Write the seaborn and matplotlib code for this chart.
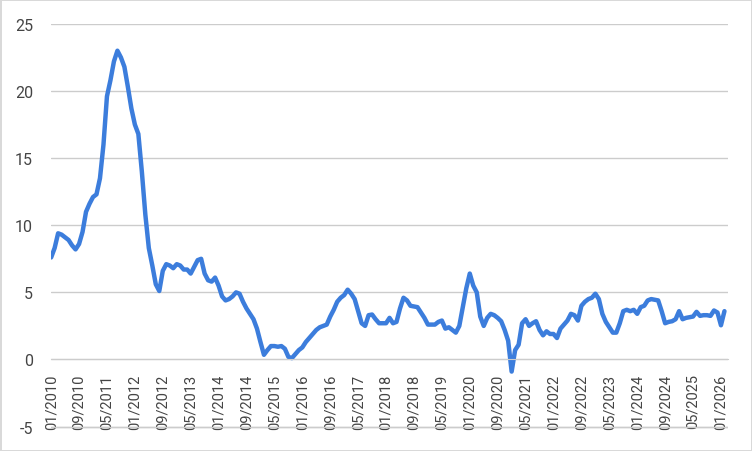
import matplotlib
matplotlib.use("Agg")
import matplotlib.pyplot as plt
import seaborn as sns
import numpy as np
import pandas as pd

# monthly values, 01/2010 .. 02/2026
values = [
    7.6, 8.3, 9.4, 9.3, 9.1, 8.9, 8.5, 8.2, 8.6, 9.5, 11.0, 11.6,    # 2010
    12.1, 12.3, 13.5, 16.0, 19.6, 20.8, 22.2, 23.0, 22.5, 21.8, 20.3, 18.7,  # 2011
    17.5, 16.8, 14.0, 10.8, 8.3, 7.0, 5.6, 5.1, 6.6, 7.1, 7.0, 6.8,  # 2012
    7.1, 7.0, 6.7, 6.7, 6.4, 6.9, 7.4, 7.5, 6.4, 5.9, 5.8, 6.1,      # 2013
    5.5, 4.7, 4.4, 4.5, 4.7, 5.0, 4.9, 4.3, 3.8, 3.4, 3.0, 2.3,      # 2014
    1.3, 0.35, 0.7, 1.0, 1.0, 0.95, 1.0, 0.8, 0.2, 0.1, 0.4, 0.7,    # 2015
    0.9, 1.3, 1.6, 1.9, 2.2, 2.4, 2.5, 2.6, 3.2, 3.7, 4.3, 4.6,      # 2016
    4.8, 5.2, 4.9, 4.5, 3.6, 2.7, 2.5, 3.3, 3.35, 3.0, 2.7, 2.7,     # 2017
    2.7, 3.1, 2.7, 2.8, 3.8, 4.6, 4.4, 4.0, 3.95, 3.9, 3.5, 3.1,     # 2018
    2.6, 2.6, 2.6, 2.8, 2.9, 2.3, 2.4, 2.2, 2.0, 2.5, 3.9, 5.3,      # 2019
    6.4, 5.5, 5.0, 3.2, 2.5, 3.1, 3.4, 3.3, 3.1, 2.85, 2.2, 1.4,     # 2020
    -0.9, 0.7, 1.1, 2.7, 3.0, 2.5, 2.7, 2.85, 2.2, 1.8, 2.1, 1.9,    # 2021
    1.9, 1.6, 2.3, 2.6, 2.9, 3.4, 3.3, 2.9, 4.0, 4.3, 4.5, 4.6,      # 2022
    4.9, 4.5, 3.4, 2.8, 2.4, 2.0, 2.0, 2.7, 3.6, 3.7, 3.6, 3.7,      # 2023
    3.4, 3.9, 4.0, 4.4, 4.5, 4.45, 4.4, 3.6, 2.7, 2.8, 2.85, 3.0,    # 2024
    3.6, 3.0, 3.1, 3.15, 3.2, 3.55, 3.25, 3.3, 3.3, 3.25, 3.65, 3.5, # 2025
    2.55, 3.6,                                                       # 2026
]

tick_labels = [
    "01/2010", "09/2010", "05/2011", "01/2012", "09/2012", "05/2013",
    "01/2014", "09/2014", "05/2015", "01/2016", "09/2016", "05/2017",
    "01/2018", "09/2018", "05/2019", "01/2020", "09/2020", "05/2021",
    "01/2022", "09/2022", "05/2023", "01/2024", "09/2024", "05/2025",
    "01/2026",
]
y_ticks = [-5, 0, 5, 10, 15, 20, 25]

df = pd.DataFrame({"month": np.arange(len(values)), "value": values})

sns.set_style("white")
plt.rcParams["font.family"] = ["Roboto", "DejaVu Sans"]

fig = plt.figure(figsize=(7.52, 4.52), dpi=100)
ax = fig.add_axes([0.068, 0.048, 0.9, 0.897])

sns.lineplot(data=df, x="month", y="value", ax=ax, color="#3c7ddc",
             linewidth=3.2, solid_capstyle="round", solid_joinstyle="round")

# move the x axis onto the zero line first (this resets tick settings)
for side in ["left", "right", "top"]:
    ax.spines[side].set_visible(False)
ax.spines["bottom"].set_position(("data", 0))
ax.spines["bottom"].set_color("#cccccc")

ax.set_ylim(-5.2, 25)
ax.set_xlim(0, 194)
ax.set_yticks(y_ticks)
ax.set_yticklabels([str(v) for v in y_ticks], fontsize=11.5, color="#444444")
ax.set_xticks(np.arange(len(tick_labels)) * 8)
ax.set_xticklabels(tick_labels, rotation=90, fontsize=10.5, color="#444444")
ax.tick_params(axis="y", length=0, pad=13)
ax.tick_params(axis="x", length=5, width=1, color="#cccccc", pad=5)

ax.grid(axis="y", color="#cccccc", linewidth=1)
# bottom gridline sits behind the rotated date labels
ax.axhline(y_ticks[0], color="#cccccc", linewidth=1, zorder=0.5)
ax.set_axisbelow(True)
ax.set_xlabel("")
ax.set_ylabel("")

fig.patch.set_edgecolor("#d9d9d9")
fig.patch.set_linewidth(2)
plt.savefig("out.png", dpi=100, edgecolor=fig.get_edgecolor())
plt.close()
